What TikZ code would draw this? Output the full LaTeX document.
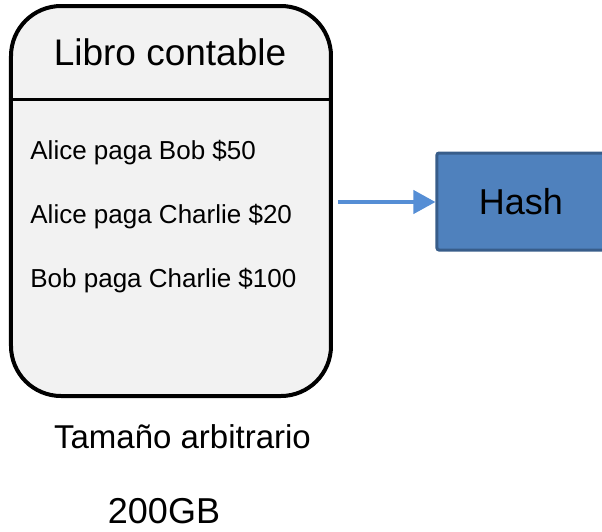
\documentclass[tikz,border=0pt]{standalone}
\usepackage{fontspec}
\setmainfont{Liberation Sans}
\usetikzlibrary{arrows.meta,calc,positioning}

\definecolor{ledgerfill}{HTML}{F2F2F2}
\definecolor{hashfill}{HTML}{4F81BD}
\definecolor{hashline}{HTML}{385D8A}
\definecolor{arrowblue}{HTML}{558ED5}

\begin{document}
\begin{tikzpicture}[
  x=0.5pt, y=-0.5pt,
  ledger/.style={
    draw=black,
    line width=2pt,
    rounded corners=25pt,
    fill=ledgerfill,
    minimum width=160pt,
    minimum height=195pt,
    inner sep=0pt
  },
  hashbox/.style={
    draw=hashline,
    line width=1.5pt,
    rounded corners=1pt,
    fill=hashfill,
    minimum width=84pt,
    minimum height=48.5pt,
    inner sep=0pt,
    font=\fontsize{18}{21}\selectfont
  },
  entry/.style={anchor=base west, inner sep=0pt, font=\fontsize{13}{15}\selectfont},
  caption/.style={anchor=base, inner sep=0pt},
  divider/.style={line width=1.5pt, draw=black},
  arrow/.style={-{Triangle[length=11pt,width=11.5pt]}, line width=2pt, draw=arrowblue}
]
\useasboundingbox (0,0) rectangle (602,532);

\node[ledger] (ledger) at (171,201) {};
\node[caption, font=\fontsize{18.5}{22}\selectfont] (title) at (170,65) {Libro contable};
\coordinate (sep) at (171,99);
\draw[divider] (ledger.west |- sep) -- (ledger.east |- sep);

\node[entry] (pay1) at (30,159) {Alice paga Bob \$50};
\node[entry] (pay2) at (30,223) {Alice paga Charlie \$20};
\node[entry] (pay3) at (30,287) {Bob paga Charlie \$100};

\node[hashbox] (hash) at (521,201.5) {Hash};
\draw[arrow] ($(ledger.east)+(5,1)$) -- (hash.west |- 0,202);

\node[caption, font=\fontsize{16.5}{20}\selectfont] (size) at (182.5,448) {Tamaño arbitrario};
\node[caption, font=\fontsize{18}{21}\selectfont] (gb) at (164,523) {200GB};
\end{tikzpicture}
\end{document}
